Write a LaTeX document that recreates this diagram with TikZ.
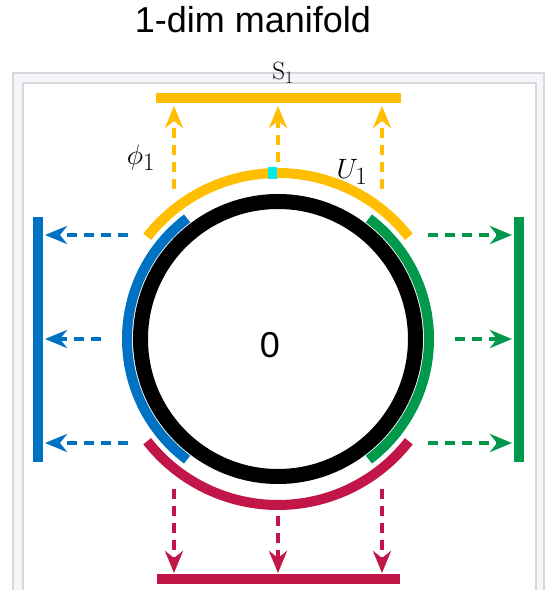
\RequirePackage{fix-cm}
\documentclass[tikz,border=0pt]{standalone}
\usepackage{fontspec}
\newfontfamily\arialfont{Liberation Sans}
\usepackage{tikz}
\usetikzlibrary{arrows.meta}
\DeclareMathSizes{28}{28}{25}{20}
\definecolor{chartyellow}{RGB}{255,190,0}
\definecolor{chartblue}{RGB}{0,114,196}
\definecolor{chartgreen}{RGB}{0,153,76}
\definecolor{chartred}{RGB}{194,22,72}
\definecolor{chartcyan}{RGB}{0,235,235}
\definecolor{framefill}{RGB}{244,246,249}
\definecolor{frameline}{RGB}{214,216,220}

\begin{document}
\begin{tikzpicture}[x=1pt,y=1pt,
  mapto/.style={line width=3.5pt,dash pattern=on 10pt off 7pt,-{Stealth[length=22pt,width=18pt,inset=7pt]}},
  chart/.style={line width=10pt},
  sans/.style={font=\arialfont\fontsize{36}{40}\selectfont},
  lab/.style={font=\fontsize{#1}{#1}\selectfont}]
\useasboundingbox (-278,-251) rectangle (267,339);
\fill[framefill,draw=frameline,line width=1.2pt] (-265,-262) rectangle (266,266);
\fill[white,draw=frameline,line width=1.2pt] (-255,-262) rectangle (258,256);
\node[sans,anchor=base] (title) at (-25,306) {1-dim manifold};
\node[lab=25] (s1) at (5,266) {$\mathrm{S}_1$};
\draw[chart,chartyellow] (-122,241) -- (123,241);
\draw[chart,chartred] (-121,-240) -- (122,-240);
\draw[chart,chartblue] (-240,122) -- (-240,-123);
\draw[chart,chartgreen] (241,122) -- (241,-123);
\draw[chart,chartyellow] (38:166) arc[start angle=38,end angle=142,radius=166];
\draw[chart,chartblue] (127:151) arc[start angle=127,end angle=233,radius=151];
\draw[chart,chartgreen] (-53:151) arc[start angle=-53,end angle=53,radius=151];
\draw[chart,chartred] (218:166) arc[start angle=218,end angle=322,radius=166];
\draw[line width=15pt] (0,0) circle[radius=137.5];
\node[fill=chartcyan,inner sep=0pt,minimum width=9pt,minimum height=12pt] (pt) at (92:166) {};
\foreach \o/\s [count=\i] in {-104/150,0/177,104/150} {
   \coordinate (ya\i) at (\o,\s); \coordinate (yb\i) at (\o,233);
   \coordinate (ra\i) at (\o,-\s); \coordinate (rb\i) at (\o,-234);
   \coordinate (ba\i) at (-\s,\o); \coordinate (bb\i) at (-233,\o);
   \coordinate (ga\i) at (\s,\o); \coordinate (gb\i) at (234,\o);
   \draw[mapto,chartyellow] (ya\i) -- (yb\i);
   \draw[mapto,chartred] (ra\i) -- (rb\i);
   \draw[mapto,chartblue] (ba\i) -- (bb\i);
   \draw[mapto,chartgreen] (ga\i) -- (gb\i);
}
\node[lab=28] (phi) at (-137,181) {$\phi_1$};
\node[lab=28] (u1) at (74,167) {$U_1$};
\node[sans] (zero) at (-8,-6) {0};
\end{tikzpicture}
\end{document}
